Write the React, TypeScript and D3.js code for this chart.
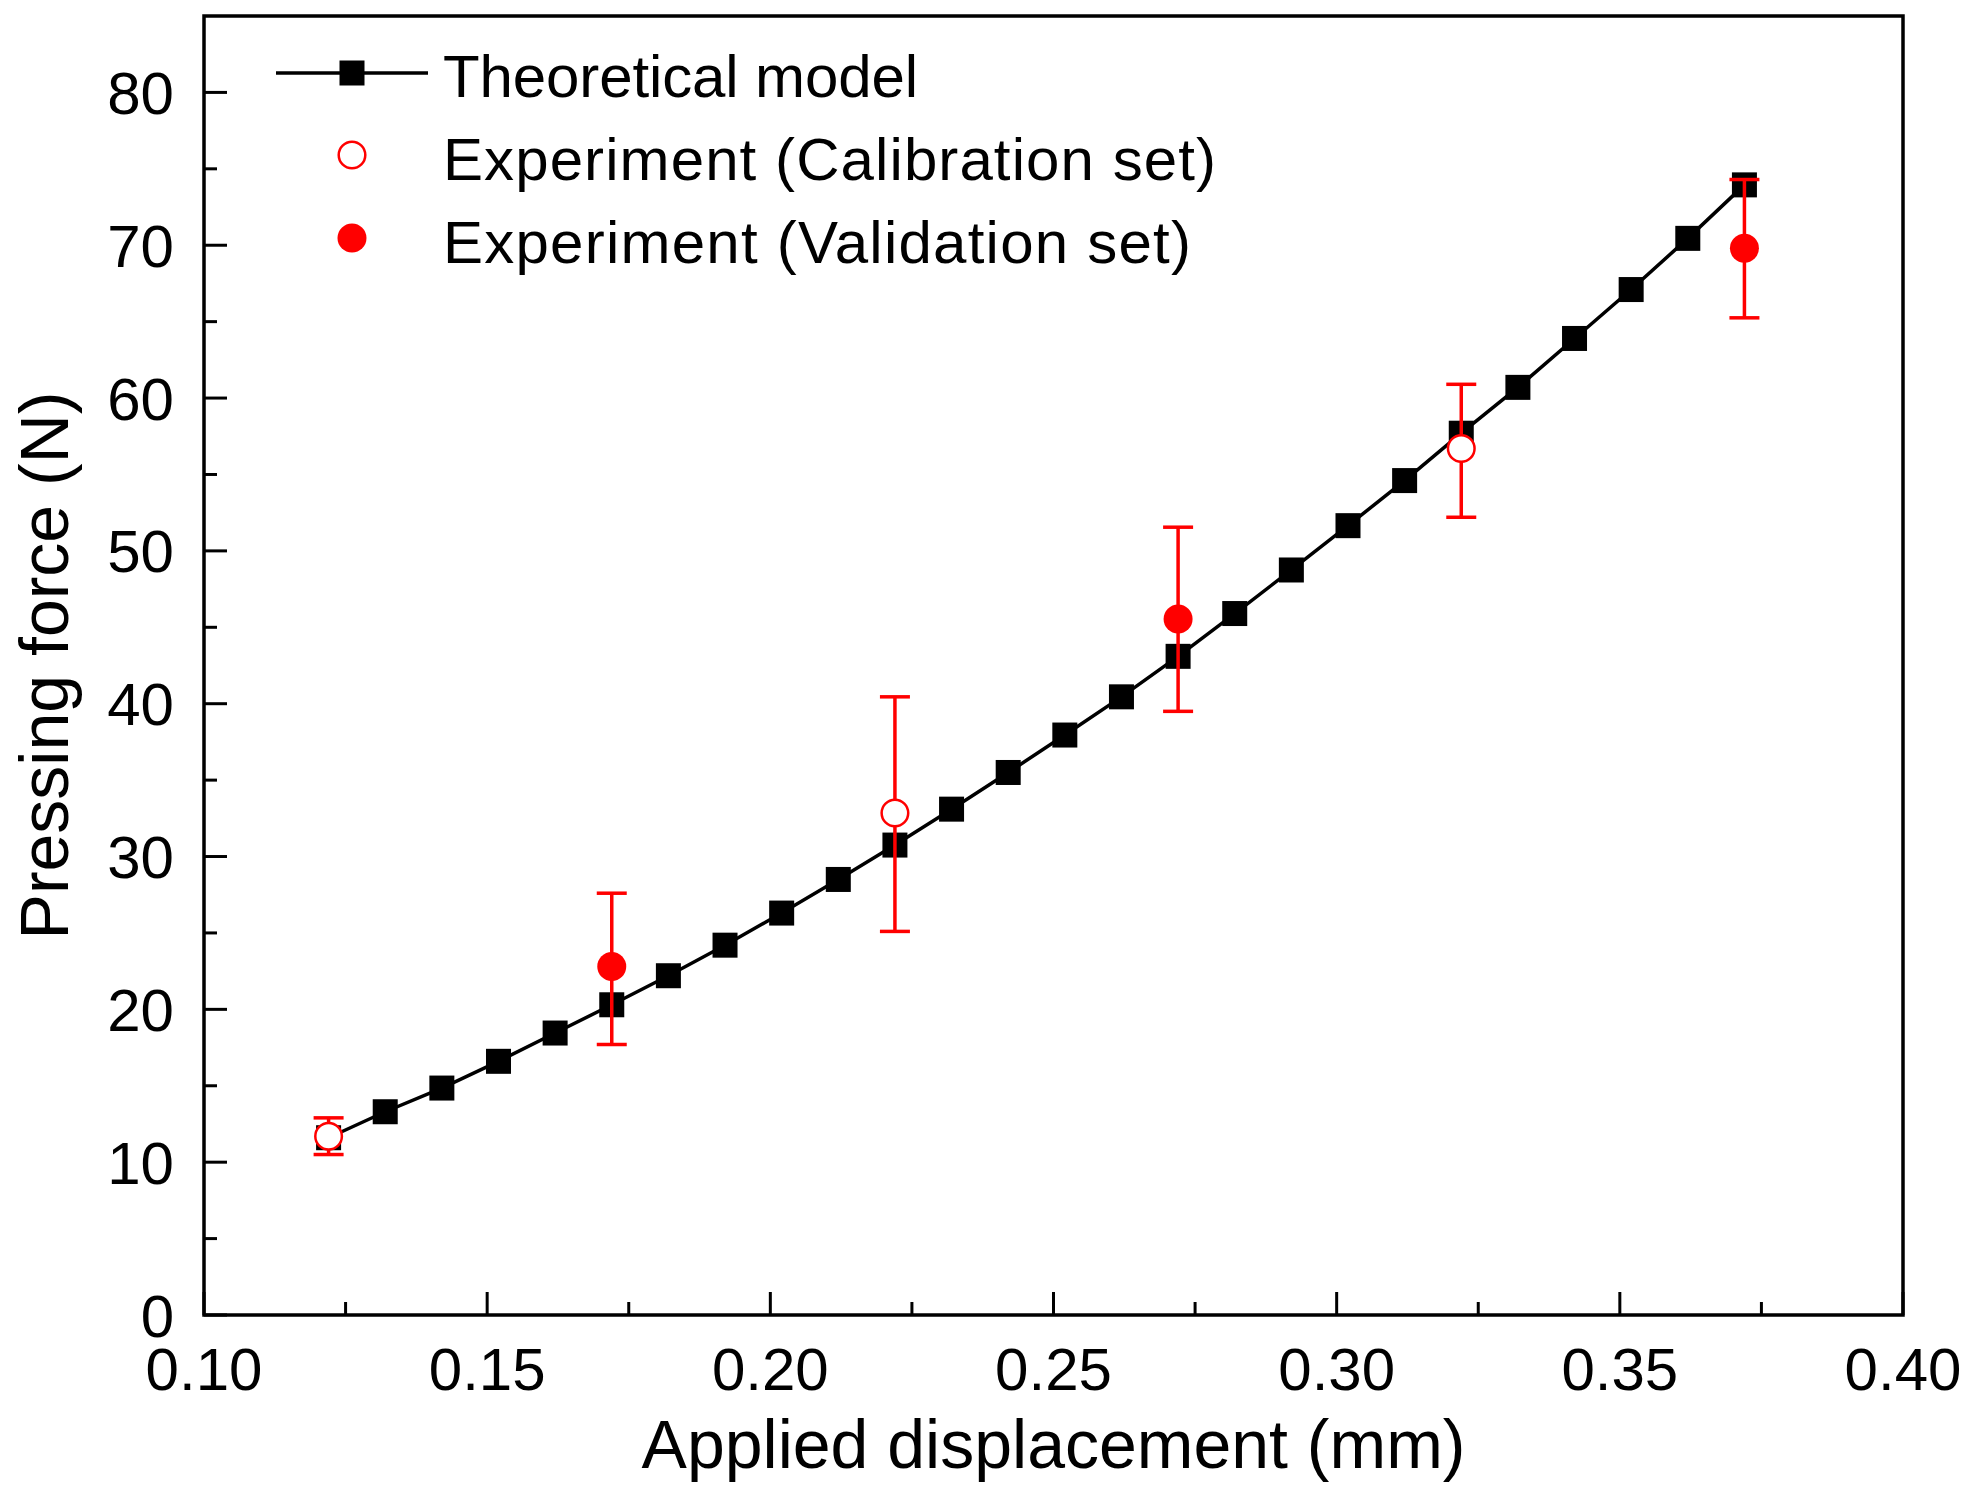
import React from "react";
import * as d3 from "d3";

// Theoretical model (black squares + line)
const modelX = [
  0.122, 0.132, 0.142, 0.152, 0.162, 0.172, 0.182, 0.192, 0.202, 0.212, 0.222, 0.232, 0.242,
  0.252, 0.262, 0.272, 0.282, 0.292, 0.302, 0.312, 0.322, 0.332, 0.342, 0.352, 0.362, 0.372,
];
const modelY = [
  11.6, 13.3, 14.85, 16.6, 18.45, 20.3, 22.2, 24.2, 26.3, 28.5, 30.75, 33.1, 35.5,
  37.95, 40.45, 43.1, 45.9, 48.75, 51.65, 54.6, 57.7, 60.7, 63.9, 67.1, 70.45, 73.95,
];

// Experiment, calibration set (open circles)
const calibX = [0.122, 0.222, 0.322];
const calibY = [11.7, 32.85, 56.7];
const calibLow = [10.5, 25.1, 52.2];
const calibHigh = [12.9, 40.45, 60.9];

// Experiment, validation set (filled circles)
const validX = [0.172, 0.272, 0.372];
const validY = [22.8, 45.55, 69.8];
const validLow = [17.7, 39.5, 65.25];
const validHigh = [27.6, 51.55, 74.3];

const xMajor = [0.1, 0.15, 0.2, 0.25, 0.3, 0.35, 0.4];
const xMinor = [0.125, 0.175, 0.225, 0.275, 0.325, 0.375];
const yMajor = [0, 10, 20, 30, 40, 50, 60, 70, 80];
const yMinor = [5, 15, 25, 35, 45, 55, 65, 75];

const legendLabels = [
  "Theoretical model",
  "Experiment (Calibration set)",
  "Experiment (Validation set)",
];

const W = 1971;
const H = 1498;
const left = 204;
const right = 1903;
const top = 16;
const bottom = 1315;
const FONT = "'Liberation Sans', Arial, Helvetica, sans-serif";
const RED = "#ff0000";

export default function App() {
  const x = d3.scaleLinear().domain([0.1, 0.4]).range([left, right]);
  const y = d3.scaleLinear().domain([0, 85]).range([bottom, top]);

  const model = modelX.map((v, i) => ({ x: v, y: modelY[i] }));
  const calib = calibX.map((v, i) => ({ x: v, y: calibY[i], lo: calibLow[i], hi: calibHigh[i] }));
  const valid = validX.map((v, i) => ({ x: v, y: validY[i], lo: validLow[i], hi: validHigh[i] }));

  const line = d3
    .line<{ x: number; y: number }>()
    .x((d) => x(d.x))
    .y((d) => y(d.y));

  const sq = 25;
  const r = 14.5;
  const cap = 15;
  const majorLen = 23;
  const minorLen = 13;

  const errorBar = (d: { x: number; lo: number; hi: number }, k: string) => (
    <g key={k} stroke={RED} strokeWidth={3.5} fill="none">
      <line x1={x(d.x)} x2={x(d.x)} y1={y(d.lo)} y2={y(d.hi)} />
      <line x1={x(d.x) - cap} x2={x(d.x) + cap} y1={y(d.lo)} y2={y(d.lo)} />
      <line x1={x(d.x) - cap} x2={x(d.x) + cap} y1={y(d.hi)} y2={y(d.hi)} />
    </g>
  );

  const legendBase = [97, 180, 263];
  const legendSymY = [73, 155, 238];
  const legendWidths = [475, 773, 748];

  return (
    <svg
      width={W}
      height={H}
      viewBox={`0 0 ${W} ${H}`}
      style={{ position: "absolute", left: 0, top: 0, background: "#fff" }}
      fontFamily={FONT}
    >
      <rect x={0} y={0} width={W} height={H} fill="#fff" />

      {/* theoretical line and squares */}
      <path d={line(model) || ""} fill="none" stroke="#000" strokeWidth={3.5} />
      {model.map((d, i) => (
        <rect key={`m${i}`} x={x(d.x) - sq / 2} y={y(d.y) - sq / 2} width={sq} height={sq} fill="#000" />
      ))}

      {/* error bars */}
      {calib.map((d, i) => errorBar(d, `ce${i}`))}
      {valid.map((d, i) => errorBar(d, `ve${i}`))}

      {/* experiment markers */}
      {calib.map((d, i) => (
        <circle key={`c${i}`} cx={x(d.x)} cy={y(d.y)} r={r - 1.2} fill="#fff" stroke={RED} strokeWidth={2.5} />
      ))}
      {valid.map((d, i) => (
        <circle key={`v${i}`} cx={x(d.x)} cy={y(d.y)} r={r} fill={RED} />
      ))}

      {/* frame */}
      <rect x={left} y={top} width={right - left} height={bottom - top} fill="none" stroke="#000" strokeWidth={3.5} />

      {/* x ticks */}
      {xMajor.map((v) => (
        <g key={`xt${v}`}>
          <line x1={x(v)} x2={x(v)} y1={bottom} y2={bottom - majorLen} stroke="#000" strokeWidth={3} />
          <text x={x(v)} y={bottom + 75} fontSize={60} textAnchor="middle" fill="#000">
            {d3.format(".2f")(v)}
          </text>
        </g>
      ))}
      {xMinor.map((v) => (
        <line key={`xm${v}`} x1={x(v)} x2={x(v)} y1={bottom} y2={bottom - minorLen} stroke="#000" strokeWidth={3} />
      ))}

      {/* y ticks */}
      {yMajor.map((v) => (
        <g key={`yt${v}`}>
          <line x1={left} x2={left + majorLen} y1={y(v)} y2={y(v)} stroke="#000" strokeWidth={3} />
          <text x={left - 30} y={y(v)} dy="0.36em" fontSize={60} textAnchor="end" fill="#000">
            {v}
          </text>
        </g>
      ))}
      {yMinor.map((v) => (
        <line key={`ym${v}`} x1={left} x2={left + minorLen} y1={y(v)} y2={y(v)} stroke="#000" strokeWidth={3} />
      ))}

      {/* axis titles */}
      <text x={(left + right) / 2} y={1468} fontSize={68} textAnchor="middle" fill="#000">
        Applied displacement (mm)
      </text>
      <text
        transform={`translate(68, ${(top + bottom) / 2}) rotate(-90)`}
        fontSize={68}
        textAnchor="middle"
        fill="#000"
      >
        Pressing force (N)
      </text>

      {/* legend */}
      <line x1={276} x2={428} y1={legendSymY[0]} y2={legendSymY[0]} stroke="#000" strokeWidth={3.5} />
      <rect x={352 - sq / 2} y={legendSymY[0] - sq / 2} width={sq} height={sq} fill="#000" />
      <circle cx={352} cy={legendSymY[1]} r={r - 1.2} fill="#fff" stroke={RED} strokeWidth={2.5} />
      <circle cx={352} cy={legendSymY[2]} r={r} fill={RED} />
      {legendLabels.map((t, i) => (
        <text
          key={t}
          x={443}
          y={legendBase[i]}
          fontSize={60}
          fill="#000"
          textLength={legendWidths[i]}
          lengthAdjust="spacing"
        >
          {t}
        </text>
      ))}
    </svg>
  );
}
